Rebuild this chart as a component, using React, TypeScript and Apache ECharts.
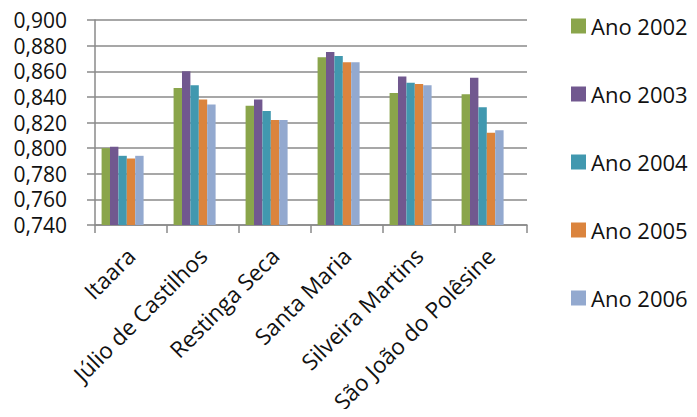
import React, { useEffect, useRef } from "react";
import * as echarts from "echarts";

const categories = [
  "Itaara",
  "Júlio de Castilhos",
  "Restinga Seca",
  "Santa Maria",
  "Silveira Martins",
  "São João do Polêsine",
];

const years = ["Ano 2002", "Ano 2003", "Ano 2004", "Ano 2005", "Ano 2006"];

const ano2002 = [0.8, 0.847, 0.833, 0.871, 0.843, 0.842];
const ano2003 = [0.801, 0.86, 0.838, 0.875, 0.856, 0.855];
const ano2004 = [0.794, 0.849, 0.829, 0.872, 0.851, 0.832];
const ano2005 = [0.792, 0.838, 0.822, 0.867, 0.85, 0.812];
const ano2006 = [0.794, 0.834, 0.822, 0.867, 0.849, 0.814];

const yTicks = { min: 0.74, max: 0.9, interval: 0.02 };

const colors = ["#8aa54b", "#71588f", "#4198af", "#db843d", "#93a9cf"];

const FONT = "'Open Sans', 'Noto Sans', sans-serif";
const GRID_GREY = "#8a8a8a";

export default function App() {
  const ref = useRef<HTMLDivElement>(null);

  useEffect(() => {
    if (!ref.current) return;
    const chart = echarts.init(ref.current, null, { renderer: "svg" });
    const values = [ano2002, ano2003, ano2004, ano2005, ano2006];

    const yearSeries = years.map((name, i) => ({
      name,
      type: "bar" as const,
      data: values[i],
      barGap: "0%",
      barCategoryGap: "18.3%",
      itemStyle: { color: colors[i] },
    }));

    // Two empty slots after the five years keep each cluster left of its tick centre
    const emptySlots = [0, 1].map((k) => ({
      name: "slot" + k,
      type: "bar" as const,
      data: [] as number[],
      barGap: "0%",
      barCategoryGap: "18.3%",
    }));

    chart.setOption({
      animation: false,
      color: colors,
      textStyle: { fontFamily: FONT },
      grid: { left: 95, right: 170, top: 20, bottom: 192, containLabel: false },
      legend: {
        data: years,
        orient: "vertical",
        left: 566,
        top: 9,
        padding: 5,
        itemWidth: 15,
        itemHeight: 15,
        itemGap: 44,
        icon: "rect",
        textStyle: {
          fontFamily: FONT,
          fontSize: 22,
          color: "#111",
          lineHeight: 24,
        },
      },
      xAxis: {
        type: "category",
        data: categories,
        axisLine: { show: true, lineStyle: { color: GRID_GREY, width: 1.5 } },
        axisTick: { show: true, length: 8, lineStyle: { color: GRID_GREY, width: 1.5 } },
        axisLabel: {
          rotate: 45,
          interval: 0,
          margin: 27,
          fontFamily: FONT,
          fontSize: 22.5,
          color: "#111",
        },
      },
      yAxis: {
        type: "value",
        min: yTicks.min,
        max: yTicks.max,
        interval: yTicks.interval,
        axisLine: { show: true, lineStyle: { color: GRID_GREY, width: 1.5 } },
        axisTick: { show: true, length: 8, lineStyle: { color: GRID_GREY, width: 1.5 } },
        splitLine: { show: true, lineStyle: { color: GRID_GREY, width: 1.5 } },
        axisLabel: {
          margin: 28,
          fontFamily: FONT,
          fontSize: 21,
          color: "#111",
          formatter: (v: number) => v.toFixed(3).replace(".", ","),
        },
      },
      series: [...yearSeries, ...emptySlots],
    });

    return () => chart.dispose();
  }, []);

  return <div ref={ref} style={{ width: 697, height: 417, margin: -8 }} />;
}
